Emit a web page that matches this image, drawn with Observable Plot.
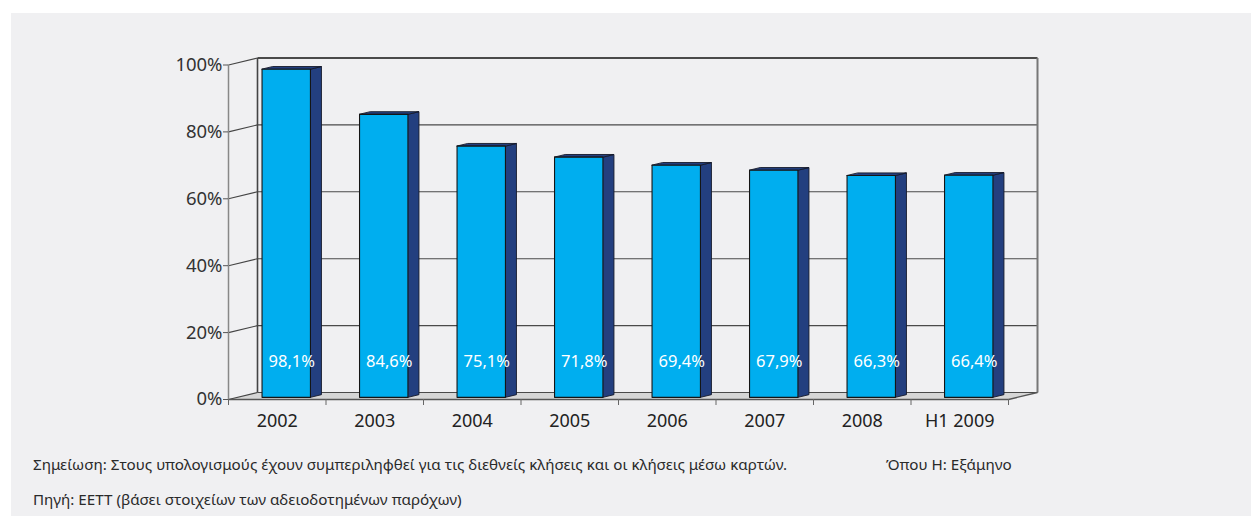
<!DOCTYPE html>
<html>
<head>
<meta charset="utf-8">
<script src="https://cdn.jsdelivr.net/npm/d3@7"></script>
<script src="https://cdn.jsdelivr.net/npm/@observablehq/plot@0.6"></script>
<style>
  html, body { margin: 0; padding: 0; background: #ffffff; }
  #panel { position: absolute; left: 11px; top: 13px; width: 1240px; height: 503px; background: #f0f0f2; overflow: hidden; }
  .note { position: absolute; font-family: "Noto Sans", sans-serif; font-size: 15.2px; line-height: 20px; color: #2a2a2a; white-space: nowrap; }
</style>
</head>
<body>
<div id="panel">
  <div id="chart"></div>
  <div class="note" id="note1" style="left:22px; top:441px;"></div>
  <div class="note" id="note2" style="left:875px; top:441px;"></div>
  <div class="note" id="note3" style="left:22px; top:476px;"></div>
</div>
<script>
// ---- data ----
const categories = ["2002", "2003", "2004", "2005", "2006", "2007", "2008", "H1 2009"];
const values = [98.1, 84.6, 75.1, 71.8, 69.4, 67.9, 66.3, 66.4];
const valueLabels = ["98,1%", "84,6%", "75,1%", "71,8%", "69,4%", "67,9%", "66,3%", "66,4%"];
const yTicks = [0, 20, 40, 60, 80, 100];
const noteText = "Σημείωση: Στους υπολογισμούς έχουν συμπεριληφθεί για τις διεθνείς κλήσεις και οι κλήσεις μέσω καρτών.";
const legendText = "Όπου Η: Εξάμηνο";
const sourceText = "Πηγή: ΕΕΤΤ (βάσει στοιχείων των αδειοδοτημένων παρόχων)";

document.getElementById("note1").textContent = noteText;
document.getElementById("note2").textContent = legendText;
document.getElementById("note3").textContent = sourceText;

// ---- layout ----
const W = 1240, H = 430;
const mL = 217, mR = 243, mT = 51.5, mB = 44;
const n = categories.length;
const xUnit = (W - mL - mR) / n;      // px per category
const yUnit = (H - mT - mB) / 100;    // px per percent
const depthPx = {x: 29, y: 7};
const Dx = depthPx.x / xUnit, Dy = depthPx.y / yUnit;
const barW = 48.4 / xUnit;
const t0 = 0.31, t1 = 0.69;

const P = (x, y, t) => ({x: x + t * Dx, y: y + t * Dy});

const frontFaces = [], sideFaces = [], topFaces = [];
values.forEach((v, i) => {
  const xl = i + 0.5 - barW / 2, xr = i + 0.5 + barW / 2;
  [P(xl, 0, t0), P(xr, 0, t0), P(xr, v, t0), P(xl, v, t0)].forEach(p => frontFaces.push({...p, id: i}));
  [P(xr, 0, t0), P(xr, 0, t1), P(xr, v, t1), P(xr, v, t0)].forEach(p => sideFaces.push({...p, id: i}));
  [P(xl, v, t0), P(xr, v, t0), P(xr, v, t1), P(xl, v, t1)].forEach(p => topFaces.push({...p, id: i}));
});
const floorPoly = [P(0, 0, 0), P(n, 0, 0), P(n, 0, 1), P(0, 0, 1)];

const backGrid = yTicks.map(v => ({a: P(0, v, 1), b: P(n, v, 1), w: v === 100 ? 2 : 1.1}));
const backVert = [{a: P(0, 0, 1), b: P(0, 100, 1), w: 1.6, c: "#444"}, {a: P(n, 0, 1), b: P(n, 100, 1), w: 2, c: "#777"}];
const leftObl = yTicks.map(v => ({a: P(0, v, 0), b: P(0, v, 1)}));
const floorEdges = [{a: P(0, 0, 0), b: P(n, 0, 0)}, {a: P(n, 0, 0), b: P(n, 0, 1)}];

const lk = (data, opts) => Plot.link(data, {x1: d => d.a.x, y1: d => d.a.y, x2: d => d.b.x, y2: d => d.b.y, ...opts});

const chart = Plot.plot({
  width: W, height: H,
  marginLeft: mL, marginRight: mR, marginTop: mT, marginBottom: mB,
  x: {domain: [0, n], axis: null},
  y: {domain: [0, 100], axis: null},
  style: {fontFamily: "Noto Sans, sans-serif", fontSize: "18px", background: "transparent", color: "#333", overflow: "visible"},
  marks: [
    Plot.line(floorPoly, {x: "x", y: "y", curve: "linear-closed", fill: "#d6d6d6", stroke: "none"}),
    lk(backGrid, {stroke: "#4a4a4a", strokeWidth: d => d.w}),
    lk(backVert, {stroke: d => d.c, strokeWidth: d => d.w}),
    lk(leftObl, {stroke: "#444", strokeWidth: 1.1}),
    lk(floorEdges, {stroke: "#555", strokeWidth: 1.3}),
    Plot.ruleX([0], {y1: 0, y2: 100, stroke: "#888", strokeWidth: 1.5}),
    Plot.axisY(yTicks, {anchor: "left", label: null, tickSize: 5, tickPadding: 1, tickFormat: d => d + "%", stroke: "#555", fill: "#333", fontSize: 18.5}),
    Plot.axisX(d3.range(0, n + 1), {anchor: "bottom", label: null, tickSize: 6, tickFormat: () => "", stroke: "#666"}),
    Plot.text(categories, {x: (d, i) => i + 0.5, y: 0, dy: 22, text: d => d, fill: "#222", fontSize: 18, lineAnchor: "middle"}),
    Plot.line(sideFaces, {x: "x", y: "y", z: "id", curve: "linear-closed", fill: "#233f7f", stroke: "#151a2a", strokeWidth: 0.9}),
    Plot.line(topFaces, {x: "x", y: "y", z: "id", curve: "linear-closed", fill: "#233f7f", stroke: "#151a2a", strokeWidth: 0.9}),
    Plot.line(frontFaces, {x: "x", y: "y", z: "id", curve: "linear-closed", fill: "#00aeef", stroke: "#151515", strokeWidth: 1.1}),
    Plot.text(valueLabels, {x: (d, i) => i + 0.5 + 0.5 * Dx, y: 0, dy: -38, text: d => d, fill: "#ffffff", fontSize: 16.5, lineAnchor: "middle"})
  ]
});
document.getElementById("chart").appendChild(chart);
</script>
</body>
</html>
